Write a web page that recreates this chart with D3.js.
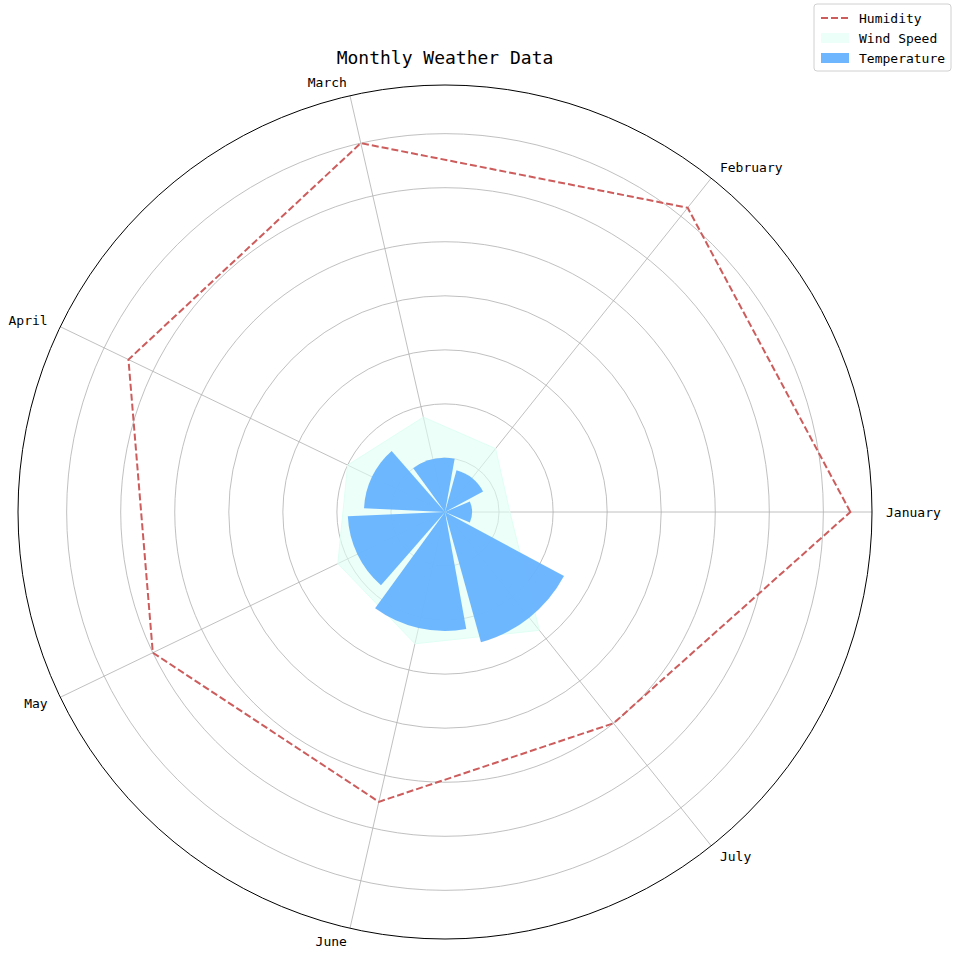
<!DOCTYPE html>
<html>
<head>
<meta charset="utf-8">
<script src="https://cdn.jsdelivr.net/npm/d3@7"></script>
<style>
  body { margin: 0; background: #fff; }
  text { font-family: "DejaVu Sans Mono", monospace; }
</style>
</head>
<body>
<div id="chart"></div>
<script>
// Data
const months = ["January", "February", "March", "April", "May", "June", "July"];
const temperature = [5, 8, 10, 15, 18, 22, 25];
const humidity = [75, 72, 70, 65, 60, 55, 50];
const windSpeed = [12, 15, 18, 20, 22, 25, 28];
const gridTicks = [10, 20, 30, 40, 50, 60, 70];

const width = 958, height = 957;
const cx = 445, cy = 512, radius = 427;

const svg = d3.select("#chart").append("svg")
    .attr("width", width)
    .attr("height", height);

const g = svg.append("g").attr("transform", "translate(" + cx + "," + cy + ")");

const r = d3.scaleLinear().domain([0, 79]).range([0, radius]);
const theta = d3.scaleLinear().domain([0, months.length]).range([0, 2 * Math.PI]);

// polar -> screen (theta counterclockwise from east)
const px = (t, v) => r(v) * Math.cos(t);
const py = (t, v) => -r(v) * Math.sin(t);

// Grid circles
g.selectAll(".ring").data(gridTicks).enter().append("circle")
    .attr("r", d => r(d))
    .attr("fill", "none")
    .attr("stroke", "#b0b0b0")
    .attr("stroke-width", 0.8);

// Spokes
g.selectAll(".spoke").data(months).enter().append("line")
    .attr("x1", 0).attr("y1", 0)
    .attr("x2", (d, i) => radius * Math.cos(theta(i)))
    .attr("y2", (d, i) => -radius * Math.sin(theta(i)))
    .attr("stroke", "#b0b0b0")
    .attr("stroke-width", 0.8);

// Wind speed area
const windPts = windSpeed.map((v, i) => [px(theta(i), v), py(theta(i), v)]);
g.append("path")
    .attr("d", d3.line().curve(d3.curveLinearClosed)(windPts))
    .attr("fill", "#e0fff4")
    .attr("fill-opacity", 0.6)
    .attr("stroke", "#e0fff4")
    .attr("stroke-width", 1);

// Temperature bars
const barW = theta(1) * 0.9;
const arc = d3.arc().innerRadius(0);
g.selectAll(".bar").data(temperature).enter().append("path")
    .attr("d", (d, i) => arc({
        outerRadius: r(d),
        startAngle: Math.PI / 2 - theta(i) - barW / 2,
        endAngle: Math.PI / 2 - theta(i) + barW / 2
    }))
    .attr("fill", "#66b3ff")
    .attr("fill-opacity", 0.95);

// Humidity line
const humPts = humidity.map((v, i) => [px(theta(i), v), py(theta(i), v)]);
g.append("path")
    .attr("d", d3.line().curve(d3.curveLinearClosed)(humPts))
    .attr("fill", "none")
    .attr("stroke", "#cd5c5c")
    .attr("stroke-width", 2)
    .attr("stroke-dasharray", "7,3");

// Outer circle
g.append("circle").attr("r", radius)
    .attr("fill", "none").attr("stroke", "#000").attr("stroke-width", 1);

// Month labels
g.selectAll(".lbl").data(months).enter().append("text")
    .attr("x", (d, i) => 441 * Math.cos(theta(i)))
    .attr("y", (d, i) => -441 * Math.sin(theta(i)))
    .attr("text-anchor", (d, i) => {
        const c = Math.cos(theta(i));
        return c > 0.05 ? "start" : c < -0.05 ? "end" : "middle";
    })
    .attr("dominant-baseline", "central")
    .attr("font-size", 13)
    .text(d => d);

// Title
svg.append("text")
    .attr("x", cx).attr("y", 64)
    .attr("text-anchor", "middle")
    .attr("font-size", 18)
    .text("Monthly Weather Data");

// Legend
const lg = svg.append("g").attr("transform", "translate(814,4)");
lg.append("rect").attr("width", 137).attr("height", 67).attr("rx", 3)
    .attr("fill", "#fff").attr("stroke", "#d0d0d0");
const items = [
    { name: "Humidity", type: "line" },
    { name: "Wind Speed", type: "wind" },
    { name: "Temperature", type: "bar" }
];
items.forEach((it, i) => {
    const y = 14 + i * 20;
    if (it.type === "line") {
        lg.append("line").attr("x1", 7).attr("x2", 35).attr("y1", y).attr("y2", y)
            .attr("stroke", "#cd5c5c").attr("stroke-width", 2).attr("stroke-dasharray", "7,3");
    } else {
        lg.append("rect").attr("x", 7).attr("y", y - 5).attr("width", 28).attr("height", 10)
            .attr("fill", it.type === "wind" ? "#e0fff4" : "#66b3ff")
            .attr("fill-opacity", it.type === "wind" ? 0.6 : 0.95);
    }
    lg.append("text").attr("x", 45).attr("y", y).attr("dominant-baseline", "central")
        .attr("font-size", 13).text(it.name);
});
</script>
</body>
</html>
